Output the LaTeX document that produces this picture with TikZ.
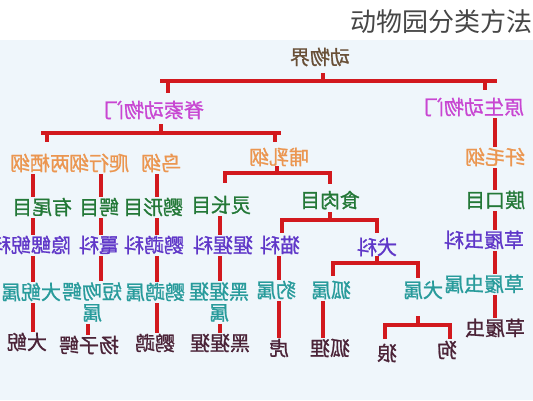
\documentclass[tikz,border=0pt]{standalone}
\usepackage{fontspec}
\newfontfamily\cjk[FakeBold=1]{Noto Sans CJK SC}
\newfontfamily\cjktitle{Noto Sans CJK SC}
\definecolor{kingdomc}{RGB}{105,80,55}
\definecolor{phylumc}{RGB}{200,70,210}
\definecolor{classc}{RGB}{235,150,80}
\definecolor{orderc}{RGB}{35,120,55}
\definecolor{familyc}{RGB}{95,55,200}
\definecolor{genusc}{RGB}{40,155,155}
\definecolor{speciesc}{RGB}{75,35,55}
\definecolor{linkc}{RGB}{210,25,30}
\definecolor{bgc}{RGB}{239,246,251}
\definecolor{titlec}{RGB}{70,70,70}
\begin{document}
\begin{tikzpicture}[x=1pt,y=-1pt,
  lbl/.style={font=\cjk\fontsize{20}{21}\selectfont,inner sep=0pt,xscale=-1},
  kingdomlbl/.style={lbl,text=kingdomc},
  phylumlbl/.style={lbl,text=phylumc},
  classlbl/.style={lbl,text=classc},
  orderlbl/.style={lbl,text=orderc},
  familylbl/.style={lbl,text=familyc},
  genuslbl/.style={lbl,text=genusc},
  specieslbl/.style={lbl,text=speciesc},
  twolines/.style={align=center},
  link/.style={draw=linkc,line width=4pt,shorten <=2pt,shorten >=1pt},
  bar/.style={draw=linkc,line width=4pt,line cap=rect}]
  \useasboundingbox (0,0) rectangle (533,400);
  \fill[white] (0,0) rectangle (533,40);
  \fill[bgc] (0,40) rectangle (533,400);
  \node[font=\cjktitle\fontsize{26}{28}\selectfont,text=titlec,inner sep=0pt] (title) at (441,22) {动物园分类方法};

  \node[kingdomlbl] (k) at (320,57) {动物界};
  \node[phylumlbl] (pChord) at (154,110) {脊索动物门};
  \node[phylumlbl] (pProto) at (474,107) {原生动物门};

  \node[classlbl] (cAmph) at (40,163) {两栖纲};
  \node[classlbl] (cRept) at (99,163) {爬行纲};
  \node[classlbl] (cBird) at (161,163) {鸟纲};
  \node[classlbl] (cMamm) at (279,157) {哺乳纲};
  \node[classlbl] (cCili) at (495,157) {纤毛纲};

  \node[orderlbl] (oCaud) at (42,207) {有尾目};
  \node[orderlbl] (oCroc) at (99,207) {鳄目};
  \node[orderlbl] (oPsit) at (153,207) {鹦形目};
  \node[orderlbl] (oPrim) at (221,205) {灵长目};
  \node[orderlbl] (oCarn) at (330,200) {食肉目};
  \node[orderlbl] (oHym) at (495,200) {膜口目};

  \node[familylbl] (fCryp) at (31,245) {隐鳃鲵科};
  \node[familylbl] (fAlli) at (99,245) {鼍科};
  \node[familylbl] (fPsit) at (154,245) {鹦鹉科};
  \node[familylbl] (fPong) at (223,245) {猩猩科};
  \node[familylbl] (fFeli) at (280,245) {猫科};
  \node[familylbl] (fCani) at (377,247) {犬科};
  \node[familylbl] (fPara) at (484,240) {草履虫科};

  \node[genuslbl] (gAndr) at (31,292) {大鲵属};
  \node[genuslbl,twolines] (gAlli) at (92,302) {短吻鳄\\属};
  \node[genuslbl] (gPsit) at (155,292) {鹦鹉属};
  \node[genuslbl,twolines] (gPan) at (219,302) {黑猩猩\\属};
  \node[genuslbl] (gPant) at (276,290) {豹属};
  \node[genuslbl] (gVulp) at (331,290) {狐属};
  \node[genuslbl] (gCanis) at (423,290) {犬属};
  \node[genuslbl] (gPara) at (484,284) {草履虫属};

  \node[specieslbl] (sAndr) at (27,342) {大鲵};
  \node[specieslbl] (sAlli) at (89,345) {扬子鳄};
  \node[specieslbl] (sPsit) at (155,343) {鹦鹉};
  \node[specieslbl] (sPan) at (220,343) {黑猩猩};
  \node[specieslbl] (sTigr) at (279,348) {虎};
  \node[specieslbl] (sFox) at (330,348) {狐狸};
  \node[specieslbl] (sWolf) at (387,353) {狼};
  \node[specieslbl] (sDog) at (447,350) {狗};
  \node[specieslbl] (sPara) at (495,328) {草履虫};

  % columns
  \coordinate (xA) at (33,0);
  \coordinate (xB) at (101,0);
  \coordinate (xB2) at (88,0);
  \coordinate (xC) at (157,0);
  \coordinate (xD) at (220,0);
  \coordinate (xE) at (279,0);
  \coordinate (xF) at (323,0);
  \coordinate (xP) at (495,0);
  \foreach \a/\b/\c in {cAmph/oCaud/xA,oCaud/fCryp/xA,fCryp/gAndr/xA,gAndr/sAndr/xA,
    cRept/oCroc/xB,oCroc/fAlli/xB,fAlli/gAlli/xB,gAlli/sAlli/xB2,
    cBird/oPsit/xC,oPsit/fPsit/xC,fPsit/gPsit/xC,gPsit/sPsit/xC,
    oPrim/fPong/xD,fPong/gPan/xD,gPan/sPan/xD,
    fFeli/gPant/xE,gPant/sTigr/xE,gVulp/sFox/xF,
    pProto/cCili/xP,cCili/oHym/xP,oHym/fPara/xP,fPara/gPara/xP,gPara/sPara/xP}
    \draw[link] (\a.south -| \c) -- (\c |- \b.north);

  % brackets
  \coordinate (j1) at (323,81);
  \coordinate (j1a) at (168,81);
  \coordinate (j1b) at (485,81);
  \draw[bar,shorten <=-6pt,shorten >=-10pt] (j1a) -- (j1b);
  \draw[link,shorten <=7pt,shorten >=0pt] (k.south -| j1) -- (j1);
  \draw[link,shorten <=0pt,shorten >=8pt] (j1a) -- (j1a |- pChord.north);
  \draw[link,shorten <=0pt,shorten >=8pt] (j1b) -- (j1b |- pProto.north);

  \coordinate (j2) at (161,133);
  \coordinate (j2a) at (47,133);
  \coordinate (j2b) at (275,133);
  \draw[bar,shorten <=-4pt,shorten >=-4pt] (j2a) -- (j2b);
  \draw[link,shorten <=5pt,shorten >=0pt] (pChord.south -| j2) -- (j2);
  \draw[link,shorten <=0pt,shorten >=12pt] (j2a) -- (j2a |- cAmph.north);
  \draw[link,shorten <=0pt,shorten >=6pt] (j2b) -- (j2b |- cMamm.north);

  \coordinate (j3) at (277,173);
  \coordinate (j3a) at (225,173);
  \coordinate (j3b) at (330,173);
  \draw[bar] (j3a) -- (j3b);
  \draw[link,shorten <=0pt,shorten >=0pt] (cMamm.south -| j3) -- (j3);
  \draw[link,shorten <=0pt,shorten >=13pt] (j3a) -- (j3a |- oPrim.north);
  \draw[link,shorten <=0pt,shorten >=7pt] (j3b) -- (j3b |- oCarn.north);

  \coordinate (j4) at (330,220);
  \coordinate (j4a) at (282,220);
  \coordinate (j4b) at (377,220);
  \draw[bar] (j4a) -- (j4b);
  \draw[link,shorten <=3pt,shorten >=0pt] (oCarn.south -| j4) -- (j4);
  \draw[link,shorten <=0pt,shorten >=3pt] (j4a) -- (j4a |- fFeli.north);
  \draw[link,shorten <=0pt,shorten >=5pt] (j4b) -- (j4b |- fCani.north);

  \coordinate (j5) at (377,263);
  \coordinate (j5a) at (333,263);
  \coordinate (j5b) at (418,263);
  \draw[bar] (j5a) -- (j5b);
  \draw[link,shorten <=0pt,shorten >=0pt] (fCani.south -| j5) -- (j5);
  \draw[link,shorten <=0pt,shorten >=5pt] (j5a) -- (j5a |- gVulp.north);
  \draw[link,shorten <=0pt,shorten >=3pt] (j5b) -- (j5b |- gCanis.north);

  \coordinate (j6) at (418,325);
  \coordinate (j6a) at (385,325);
  \coordinate (j6b) at (450,325);
  \draw[bar] (j6a) -- (j6b);
  \draw[link,shorten <=17pt,shorten >=0pt] (gCanis.south -| j6) -- (j6);
  \draw[link,shorten <=0pt,shorten >=5pt] (j6a) -- (j6a |- sWolf.north);
  \draw[link,shorten <=0pt,shorten >=2pt] (j6b) -- (j6b |- sDog.north);
\end{tikzpicture}
\end{document}
